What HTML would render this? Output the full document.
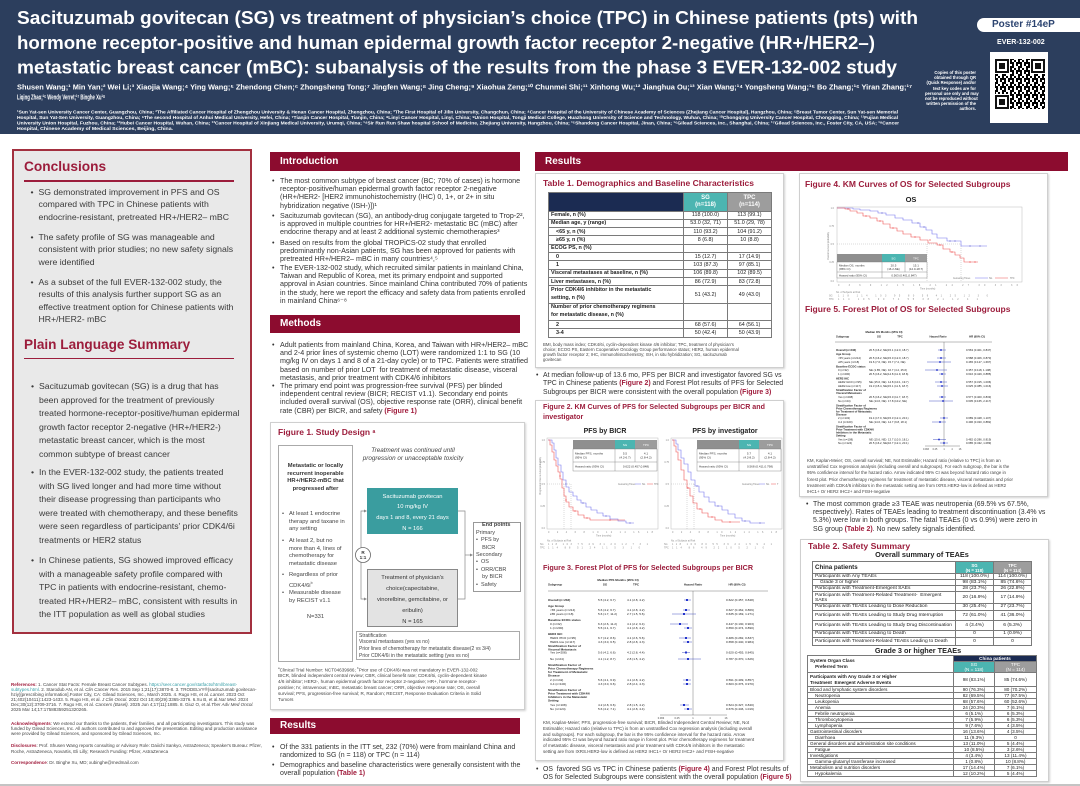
<!DOCTYPE html>
<html><head><meta charset="utf-8">
<style>
*{margin:0;padding:0;box-sizing:border-box}
body{width:1080px;height:786px;position:relative;overflow:hidden;background:#fff;font-family:"Liberation Sans",Arial,sans-serif;color:#333}
.a{position:absolute;white-space:nowrap}
.bl{position:absolute;white-space:nowrap}
.bl>i{position:absolute;font-style:normal;left:-8px}
.bar{position:absolute;background:#8c0c2f;color:#fff;font-weight:bold;font-size:10px;padding-left:10px}
.box{position:absolute;background:#fff;border:1px solid #cfcfcf;box-shadow:1px 1px 2px rgba(0,0,0,.18)}
.ft{color:#9c1d3c;font-weight:bold}
.r{color:#a01c3c;font-weight:bold}
table{border-collapse:collapse;table-layout:fixed;position:absolute}
td{padding:0;overflow:hidden;white-space:nowrap}
.tb td{border:0.6px solid #7a7a7a}
.tb td.c{text-align:center}
.tb td.l{padding-left:2px}
.tb td.i{padding-left:7px}
.b{font-weight:bold}
</style></head><body>

<!-- HEADER -->
<div class="a" style="left:0;top:0;width:1080px;height:134px;background:#2c3e5d"></div>
<div class="a" style="left:977px;top:18px;width:103px;height:14px;background:#fff;border-radius:7px 0 0 7px"></div>
<div class="a b" style="left:992px;top:18px;font-size:10px;line-height:14px;color:#2c4470">Poster #14eP</div>
<div class="a b" style="left:997px;top:38px;font-size:7.1px;line-height:8px;color:#fff">EVER-132-002</div>
<div class="a b" style="left:925px;top:70px;width:51px;font-size:4.2px;line-height:5.2px;color:#fff;text-align:right">Copies of this poster<br>obtained through QR<br>(Quick Response) and/or<br>text key codes are for<br>personal use only and may<br>not be reproduced without<br>written permission of the<br>authors.</div>

<!-- LEFT PANEL -->
<div class="a" style="left:12px;top:149px;width:240px;height:485px;background:#e9e9e9;border:2px solid #a3303f"></div>
<div class="a ft" style="left:24px;top:159px;font-size:13.7px;line-height:16px">Conclusions</div>
<div class="a" style="left:24px;top:180px;width:210px;height:1.5px;background:#9c1d3c"></div>
<div class="bl" style="left:38.5px;top:185.8px;font-size:8.7px;line-height:12.4px;color:#3a3a3a"><i>•</i>SG demonstrated improvement in PFS and OS<br>compared with TPC in Chinese patients with<br>endocrine-resistant, pretreated HR+/HER2– mBC</div>
<div class="bl" style="left:38.5px;top:230.8px;font-size:8.7px;line-height:12.4px;color:#3a3a3a"><i>•</i>The safety profile of SG was manageable and<br>consistent with prior studies; no new safety signals<br>were identified</div>
<div class="bl" style="left:38.5px;top:275.8px;font-size:8.7px;line-height:12.4px;color:#3a3a3a"><i>•</i>As a subset of the full EVER-132-002 study, the<br>results of this analysis further support SG as an<br>effective treatment option for Chinese patients with<br>HR+/HER2- mBC</div>
<div class="a ft" style="left:24px;top:337px;font-size:13.6px;line-height:16px">Plain Language Summary</div>
<div class="a" style="left:24px;top:357.5px;width:210px;height:1.5px;background:#9c1d3c"></div>
<div class="bl" style="left:39px;top:380.3px;font-size:8.7px;line-height:13.5px;color:#3a3a3a"><i>•</i>Sacituzumab govitecan (SG) is a drug that has<br>been approved for the treatment of previously<br>treated hormone-receptor-positive/human epidermal<br>growth factor receptor 2-negative (HR+/HER2-)<br>metastatic breast cancer, which is the most<br>common subtype of breast cancer</div>
<div class="bl" style="left:39px;top:466.3px;font-size:8.7px;line-height:13.5px;color:#3a3a3a"><i>•</i>In the EVER-132-002 study, the patients treated<br>with SG lived longer and had more time without<br>their disease progressing than participants who<br>were treated with chemotherapy, and these benefits<br>were seen regardless of participants' prior CDK4/6i<br>treatments or HER2 status</div>
<div class="bl" style="left:39px;top:554.3px;font-size:8.7px;line-height:13.5px;color:#3a3a3a"><i>•</i>In Chinese patients, SG showed improved efficacy<br>with a manageable safety profile compared with<br>TPC in patients with endocrine-resistant, chemo-<br>treated HR+/HER2– mBC, consistent with results in<br>the ITT population as well as global studies</div>

<div class="a" style="left:11px;top:681.5px;width:253px;white-space:normal;font-size:4.5px;line-height:5px;color:#444"><span class="r">References:</span> 1. Cancer Stat Facts: Female Breast Cancer Subtypes. <span style="color:#3aa0a8">https://seer.cancer.gov/statfacts/html/breast-subtypes.html</span>. 2. Starodub AN, et al. <i>Clin Cancer Res.</i> 2015 Sep 1;21(17):3870-8. 3. TRODELVY®(sacituzumab govitecan-hziy)[prescribing information].Foster City, CA: Gilead Sciences, Inc., March 2025. 4. Rugo HS, et al. <i>Lancet.</i> 2023 Oct 21;402(10411):1423-1433. 5. Rugo HS, et al. <i>J Clin Oncol.</i> 2022 Oct 10;40(29):3365-3376. 6.Xu B, et al.<i>Nat Med.</i> 2024 Dec;30(12):3709-3716. 7. Rugo HS, et al. <i>Cancers (Basel).</i> 2025 Jun 4;17(11):1885. 8. Giuz O, et al.<i>Ther Adv Med Oncol.</i> 2025 Mar 14;17:17588359251320265.</div>
<div class="a" style="left:11px;top:720.8px;width:253px;white-space:normal;font-size:4.5px;line-height:5px;color:#444"><span class="r">Acknowledgments</span>: We extend our thanks to the patients, their families, and all participating investigators. This study was funded by Gilead Sciences, Inc. All authors contributed to and approved the presentation. Editing and production assistance were provided by Gilead Sciences, and sponsored by Gilead Sciences, Inc.</div>
<div class="a" style="left:11px;top:743.3px;width:253px;white-space:normal;font-size:4.5px;line-height:5.5px;color:#444"><span class="r">Disclosures</span>: Prof. Shusen Wang reports consulting or Advisory Role: Daiichi Sankyo, AstraZeneca; Speaker's Bureau: Pfizer, Roche, AstraZeneca, Novartis, Eli Lilly; Research Funding: Pfizer, AstraZeneca</div>
<div class="a" style="left:11px;top:759.5px;font-size:4.5px;line-height:5px;color:#444"><span class="r">Correspondence</span>: Dr. Binghe Xu, MD; xubinghe@medmail.com</div>

<!-- MIDDLE COLUMN -->
<div class="bar" style="left:270px;top:152px;width:250px;height:19px;line-height:19px">Introduction</div>
<div class="bl" style="left:280px;top:176.8px;font-size:7.15px;line-height:8.33px"><i>•</i>The most common subtype of breast cancer (BC; 70% of cases) is hormone<br>receptor-positive/human epidermal growth factor receptor 2-negative<br>(HR+/HER2- [HER2 immunohistochemistry (IHC) 0, 1+, or 2+ in situ<br>hybridization negative (ISH-)])¹</div>
<div class="bl" style="left:280px;top:211.8px;font-size:7.15px;line-height:8.33px"><i>•</i>Sacituzumab govitecan (SG), an antibody-drug conjugate targeted to Trop-2²,<br>is approved in multiple countries for HR+/HER2- metastatic BC (mBC) after<br>endocrine therapy and at least 2 additional systemic chemotherapies³</div>
<div class="bl" style="left:280px;top:238.8px;font-size:7.15px;line-height:8.33px"><i>•</i>Based on results from the global TROPiCS-02 study that enrolled<br>predominantly non-Asian patients, SG has been approved for patients with<br>pretreated HR+/HER2– mBC in many countries⁴,⁵</div>
<div class="bl" style="left:280px;top:263.8px;font-size:7.15px;line-height:8.33px"><i>•</i>The EVER-132-002 study, which recruited similar patients in mainland China,<br>Taiwan and Republic of Korea, met its primary endpoint and supported<br>approval in Asian countries. Since mainland China contributed 70% of patients<br>in the study, here we report the efficacy and safety data from patients enrolled<br>in mainland China⁶⁻⁸</div>

<div class="bar" style="left:270px;top:315px;width:250px;height:18px;line-height:18px">Methods</div>
<div class="bl" style="left:280px;top:340.8px;font-size:7.15px;line-height:8.33px"><i>•</i>Adult patients from mainland China, Korea, and Taiwan with HR+/HER2– mBC<br>and 2-4 prior lines of systemic chemo (LOT) were randomized 1:1 to SG (10<br>mg/kg IV on days 1 and 8 of a 21-day cycle) or to TPC. Patients were stratified<br>based on number of prior LOT &nbsp;for treatment of metastatic disease, visceral<br>metastasis, and prior treatment with CDK4/6 inhibitors</div>
<div class="bl" style="left:280px;top:381.8px;font-size:7.15px;line-height:8.33px"><i>•</i>The primary end point was progression-free survival (PFS) per blinded<br>independent central review (BICR; RECIST v1.1). Secondary end points<br>included overall survival (OS), objective response rate (ORR), clinical benefit<br>rate (CBR) per BICR, and safety <span class="r">(Figure 1)</span></div>

<!-- FIGURE 1 -->
<div class="box" style="left:270px;top:422px;width:255px;height:288px"></div>
<div class="a ft" style="left:278px;top:426px;font-size:8.5px;line-height:12px">Figure 1. Study Design <span style="font-size:5px;vertical-align:top">a</span></div>
<div class="a" style="left:278px;top:445px;width:75px;height:217px;border:1px solid #aaa;background:#fff"></div>
<div class="a b" style="left:278px;top:463.3px;width:75px;text-align:center;font-size:5.8px;line-height:7.4px;color:#333">Metastatic or locally<br>recurrent inoperable<br>HR+/HER2-mBC that<br>progressed after</div>
<div class="bl" style="left:289px;top:511.2px;font-size:5.8px;line-height:7.6px;color:#444"><i style="left:-7px">•</i>At least 1 endocrine<br>therapy and taxane in<br>any setting</div>
<div class="bl" style="left:289px;top:538.2px;font-size:5.8px;line-height:7.6px;color:#444"><i style="left:-7px">•</i>At least 2, but no<br>more than 4, lines of<br>chemotherapy for<br>metastatic disease</div>
<div class="bl" style="left:289px;top:572.2px;font-size:5.8px;line-height:7.6px;color:#444"><i style="left:-7px">•</i>Regardless of prior<br>CDK4/6i<sup style="font-size:3.5px">b</sup></div>
<div class="bl" style="left:289px;top:590.2px;font-size:5.8px;line-height:7.6px;color:#444"><i style="left:-7px">•</i>Measurable disease<br>by RECIST v1.1</div>
<div class="a" style="left:278px;top:613px;width:75px;text-align:center;font-size:5.8px;line-height:8px;color:#444">N=331</div>
<div class="a" style="left:356px;top:446.5px;width:114px;text-align:center;font-size:6.3px;line-height:8px;font-style:italic;color:#444">Treatment was continued until<br>progression or unacceptable toxicity</div>
<div class="a" style="left:367px;top:488px;width:91px;height:46px;background:#3a9d9f"></div>
<div class="a" style="left:367px;top:491.6px;width:91px;text-align:center;font-size:5.8px;line-height:10.7px;color:#fff">Sacituzumab govitecan<br>10 mg/kg IV<br>days 1 and 8, every 21 days<br>N = 166</div>
<div class="a" style="left:367px;top:569px;width:91px;height:58px;background:#e3e3e3;border:1px solid #888"></div>
<div class="a" style="left:367px;top:572.5px;width:91px;text-align:center;font-size:5.8px;line-height:11px;color:#333">Treatment of physician's<br>choice(capecitabine,<br>vinorelbine, gemcitabine, or<br>eribulin)<br>N = 165</div>
<div class="a" style="left:473px;top:522px;width:48px;height:70px;border:1px solid #999;background:#fff"></div>
<div class="a" style="left:476px;top:522.3px;font-size:5.5px;line-height:7.4px;color:#444"><b style="padding-left:6px">End points</b><br>Primary<br>• &nbsp;PFS by<br>&nbsp;&nbsp;&nbsp;&nbsp;BICR<br>Secondary<br>• &nbsp;OS<br>• &nbsp;ORR/CBR<br>&nbsp;&nbsp;&nbsp;&nbsp;by BICR<br>• &nbsp;Safety</div>
<div class="a" style="left:356px;top:631px;width:164px;height:29px;border:1px solid #aaa;background:#fff"></div>
<div class="a" style="left:359px;top:632.5px;font-size:5px;line-height:6.7px;color:#444">Stratification<br>Visceral metastases (yes vs no)<br>Prior lines of chemotherapy for metastatic disease(2 vs 3/4)<br>Prior CDK4/6i in the metastatic setting (yes vs no)</div>
<div class="a" style="left:278px;top:666px;font-size:4.6px;line-height:5.8px;color:#444"><sup style="font-size:3px">a</sup>Clinical Trial Number: NCT04639986; <sup style="font-size:3px">b</sup>Prior use of CDK4/6i was not mandatory in EVER-132-002<br>BICR, blinded independent central review; CBR, clinical benefit rate; CDK4/6i, cyclin-dependent kinase<br>4/6 inhibitor; HER2-, human epidermal growth factor receptor 2-negative; HR+, hormone receptor-<br>positive; IV, intravenous; mBC, metastatic breast cancer; ORR, objective response rate; OS, overall<br>survival; PFS, progression-free survival; R, Random; RECIST, Response Evaluation Criteria in Solid<br>Tumors</div>

<div class="bar" style="left:270px;top:718px;width:250px;height:16px;line-height:16px">Results</div>
<div class="bl" style="left:280px;top:744px;font-size:7px;line-height:8px"><i>•</i>Of the 331 patients in the ITT set, 232 (70%) were from mainland China and<br>randomized to SG (n = 118) or TPC (n = 114)</div>
<div class="bl" style="left:280px;top:762px;font-size:7px;line-height:8px"><i>•</i>Demographics and baseline characteristics were generally consistent with the<br>overall population <span class="r">(Table 1)</span></div>

<!-- RIGHT RESULTS -->
<div class="bar" style="left:535px;top:152px;width:533px;height:19px;line-height:19px">Results</div>

<!-- TABLE 1 -->
<div class="box" style="left:535px;top:173px;width:249px;height:195px"></div>
<div class="a ft" style="left:543px;top:177px;font-size:8.5px;line-height:12px">Table 1. Demographics and Baseline Characteristics</div>
<table class="tb" style="left:548px;top:192px;width:223px;font-size:5.4px;line-height:6.2px;color:#222">
<col style="width:135px"><col style="width:44px"><col style="width:44px">
<tr style="height:18.5px"><td style="background:#1b2b52"></td><td class="c b" style="background:#4cb5b1;color:#fff;font-size:6px;line-height:7px">SG<br>(n=118)</td><td class="c b" style="background:#9d9d9d;color:#fff;font-size:6px;line-height:7px">TPC<br>(n=114)</td></tr>
<tr style="height:8.33px"><td class="l b">Female, n (%)</td><td class="c">118 (100.0)</td><td class="c">113 (99.1)</td></tr>
<tr style="height:8.33px"><td class="l b">Median age, y (range)</td><td class="c">53.0 (32, 71)</td><td class="c">51.0 (29, 78)</td></tr>
<tr style="height:8.33px"><td class="i b">&lt;65 y, n (%)</td><td class="c">110 (93.2)</td><td class="c">104 (91.2)</td></tr>
<tr style="height:8.33px"><td class="i b">≥65 y, n (%)</td><td class="c">8 (6.8)</td><td class="c">10 (8.8)</td></tr>
<tr style="height:8.33px"><td class="l b">ECOG PS, n (%)</td><td></td><td></td></tr>
<tr style="height:8.33px"><td class="i b">0</td><td class="c">15 (12.7)</td><td class="c">17 (14.9)</td></tr>
<tr style="height:8.33px"><td class="i b">1</td><td class="c">103 (87.3)</td><td class="c">97 (85.1)</td></tr>
<tr style="height:8.33px"><td class="l b">Visceral metastases at baseline, n (%)</td><td class="c">106 (89.8)</td><td class="c">102 (89.5)</td></tr>
<tr style="height:8.33px"><td class="l b">Liver metastases, n (%)</td><td class="c">86 (72.9)</td><td class="c">83 (72.8)</td></tr>
<tr style="height:17.3px"><td class="l b" style="line-height:7.6px">Prior CDK4/6 inhibitor in the metastatic<br>setting, n (%)</td><td class="c">51 (43.2)</td><td class="c">49 (43.0)</td></tr>
<tr style="height:17.3px"><td class="l b" style="line-height:7.6px">Number of prior chemotherapy regimens<br>for metastatic disease, n (%)</td><td></td><td></td></tr>
<tr style="height:8.33px"><td class="i b">2</td><td class="c">68 (57.6)</td><td class="c">64 (56.1)</td></tr>
<tr style="height:8.33px"><td class="i b">3-4</td><td class="c">50 (42.4)</td><td class="c">50 (43.9)</td></tr>
</table>
<div class="a" style="left:543px;top:341.5px;font-size:4.3px;line-height:5px;color:#444">BMI, body mass index; CDK4/6i, cyclin-dependent kinase 4/6 inhibitor; TPC, treatment of physician's<br>choice; ECOG PS, Eastern Cooperative Oncology Group performance status; HER2, human epidermal<br>growth factor receptor 2; IHC, immunohistochemistry; ISH, in situ hybridization; SG, sacituzumab<br>govitecan</div>

<div class="bl" style="left:543px;top:371.8px;font-size:6.9px;line-height:8.5px"><i style="left:-7px">•</i>At median follow-up of 13.6 mo, PFS per BICR and investigator favored SG vs<br>TPC in Chinese patients <span class="r">(Figure 2)</span> and Forest Plot results of PFS for Selected<br>Subgroups per BICR were consistent with the overall population <span class="r">(Figure 3)</span></div>

<!-- FIGURE 2/3 BOX -->
<div class="box" style="left:535px;top:400px;width:249px;height:361px"></div>
<div class="a ft" style="left:543px;top:402px;font-size:7.1px;line-height:10px">Figure 2. KM Curves of PFS for Selected Subgroups per BICR and<br>investigator</div>
<div class="a b" style="left:565px;top:428px;width:80px;text-align:center;font-size:7px;line-height:8px;color:#222">PFS by BICR</div>
<div class="a b" style="left:685px;top:428px;width:80px;text-align:center;font-size:7px;line-height:8px;color:#222">PFS by investigator</div>
<div class="a ft" style="left:543px;top:563px;font-size:7.2px;line-height:10px">Figure 3. Forest Plot of PFS for Selected Subgroups per BICR</div>
<div class="a" style="left:543px;top:720px;font-size:4.5px;line-height:5.8px;color:#444">KM, Kaplan-Meier; PFS, progression-free survival; BICR, Blinded Independent Central Review; NE, Not<br>Estimable; Hazard ratio (relative to TPC) is from an unstratified Cox regression analysis (including overall<br>and subgroups). For each subgroup, the bar is the 95% confidence interval for the hazard ratio. Arrow<br>indicated 95% CI was beyond hazard ratio range in forest plot. Prior chemotherapy regimens for treatment<br>of metastatic disease, visceral metastasis and prior treatment with CDK4/6 inhibitors in the metastatic<br>setting are from IXRS.HER2-low is defined as HER2 IHC1+ Or HER2 IHC2+ and FISH-negative</div>
<div class="bl" style="left:543px;top:765.8px;font-size:6.9px;line-height:8.3px"><i style="left:-7px">•</i>OS &nbsp;favored SG vs TPC in Chinese patients <span class="r">(Figure 4)</span> and Forest Plot results of<br>OS for Selected Subgroups were consistent with the overall population <span class="r">(Figure 5)</span></div>

<!-- FIGURE 4/5 BOX -->
<div class="box" style="left:799px;top:173px;width:249px;height:324px"></div>
<div class="a ft" style="left:805px;top:178px;font-size:8.5px;line-height:12px">Figure 4. KM Curves of OS for Selected Subgroups</div>
<div class="a b" style="left:891px;top:194.5px;width:40px;text-align:center;font-size:7.5px;line-height:9px;color:#222">OS</div>
<div class="a ft" style="left:805px;top:303px;font-size:8.5px;line-height:12px">Figure 5. Forest Plot of OS for Selected Subgroups</div>
<div class="a" style="left:807px;top:458px;font-size:4.4px;line-height:6.2px;color:#444">KM, Kaplan-Meier; OS, overall survival; NE, Not Estimable; Hazard ratio (relative to TPC) is from an<br>unstratified Cox regression analysis (including overall and subgroups). For each subgroup, the bar is the<br>95% confidence interval for the hazard ratio. Arrow indicated 95% CI was beyond hazard ratio range in<br>forest plot. Prior chemotherapy regimens for treatment of metastatic disease, visceral metastasis and prior<br>treatment with CDK4/6 inhibitors in the metastatic setting are from IXRS.HER2-low is defined as HER2<br>IHC1+ Or HER2 IHC2+ and FISH-negative</div>

<div class="bl" style="left:813px;top:500.8px;font-size:6.95px;line-height:8.33px"><i style="left:-7px">•</i>The most common grade ≥3 TEAE was neutropenia (69.5% vs 67.5%,<br>respectively). Rates of TEAEs leading to treatment discontinuation (3.4% vs<br>5.3%) were low in both groups. The fatal TEAEs (0 vs 0.9%) were zero in<br>SG group <span class="r">(Table 2)</span>. No new safety signals identified.</div>

<!-- TABLE 2 -->
<div class="box" style="left:800px;top:539px;width:249px;height:243px"></div>
<div class="a ft" style="left:808px;top:540px;font-size:8.7px;line-height:12px">Table 2. Safety Summary</div>
<div class="a b" style="left:862px;top:549.5px;width:120px;text-align:center;font-size:7.3px;line-height:9px;color:#222">Overall summary of TEAEs</div>
<table class="tb" style="left:812px;top:561px;width:219px;font-size:4.9px;line-height:5px;color:#222">
<col style="width:143px"><col style="width:38px"><col style="width:38px">
<tr style="height:12px"><td class="l b" style="font-size:6.2px;line-height:7px">China patients</td><td class="c b" style="background:#4cb5b1;color:#fff;font-size:4.3px;line-height:5px">SG<br>(N = 118)</td><td class="c b" style="background:#9d9d9d;color:#fff;font-size:4.3px;line-height:5px">TPC<br>(N = 114)</td></tr>
<tr style="height:5.2px"><td class="l">Participants with Any TEAEs</td><td class="c">118 (100.0%)</td><td class="c">114 (100.0%)</td></tr>
<tr style="height:5.3px"><td class="i">Grade 3 or higher</td><td class="c">98 (83.1%)</td><td class="c">85 (74.6%)</td></tr>
<tr style="height:6.3px"><td class="l">Participants with Treatment-Emergent SAEs</td><td class="c">28 (23.7%)</td><td class="c">26 (22.8%)</td></tr>
<tr style="height:11.7px"><td class="l">Participants with Treatment-Related Treatment- &nbsp;Emergent<br>SAEs</td><td class="c">20 (16.9%)</td><td class="c">17 (14.9%)</td></tr>
<tr style="height:7px"><td class="l">Participants with TEAEs Leading to Dose Reduction</td><td class="c">30 (25.4%)</td><td class="c">27 (23.7%)</td></tr>
<tr style="height:9.8px"><td class="l">Participants with TEAEs Leading to Study Drug Interruption</td><td class="c">72 (61.0%)</td><td class="c">41 (36.0%)</td></tr>
<tr style="height:9.9px"><td class="l">Participants with TEAEs Leading to Study Drug Discontinuation</td><td class="c">4 (3.4%)</td><td class="c">6 (5.3%)</td></tr>
<tr style="height:7px"><td class="l">Participants with TEAEs Leading to Death</td><td class="c">0</td><td class="c">1 (0.9%)</td></tr>
<tr style="height:8.8px"><td class="l">Participants with Treatment-Related TEAEs Leading to Death</td><td class="c">0</td><td class="c">0</td></tr>
</table>
<div class="a b" style="left:858px;top:645.5px;width:120px;text-align:center;font-size:7.3px;line-height:9px;color:#222">Grade 3 or higher TEAEs</div>
<table class="tb" style="left:807px;top:655px;width:229px;font-size:4.6px;line-height:5px;color:#222">
<col style="width:146px"><col style="width:41px"><col style="width:42px">
<tr style="height:6px"><td rowspan="2" class="l b" style="vertical-align:middle;line-height:6px">System Organ Class<br>&nbsp;&nbsp;&nbsp;&nbsp;Preferred Term</td><td colspan="2" class="c b" style="background:#1b2b52;color:#fff">China patients</td></tr>
<tr style="height:11px"><td class="c" style="background:#4cb5b1;color:#fff">SG<br>(N = 118)</td><td class="c" style="background:#9d9d9d;color:#fff">TPC<br>(N = 114)</td></tr>
<tr style="height:14px"><td class="l b" style="line-height:6px">Participants with Any Grade 3 or Higher<br>Treatment &nbsp;Emergent Adverse Events</td><td class="c">98 (83.1%)</td><td class="c">85 (74.6%)</td></tr>
<tr style="height:5.87px"><td class="l">Blood and lymphatic system disorders</td><td class="c">90 (76.3%)</td><td class="c">80 (70.2%)</td></tr>
<tr style="height:5.87px"><td class="i">Neutropenia</td><td class="c">82 (69.5%)</td><td class="c">77 (67.5%)</td></tr>
<tr style="height:5.87px"><td class="i">Leukopenia</td><td class="c">68 (57.6%)</td><td class="c">60 (52.6%)</td></tr>
<tr style="height:5.87px"><td class="i">Anemia</td><td class="c">24 (20.3%)</td><td class="c">7 (6.1%)</td></tr>
<tr style="height:5.87px"><td class="i">Febrile neutropenia</td><td class="c">6 (5.1%)</td><td class="c">6 (5.3%)</td></tr>
<tr style="height:5.87px"><td class="i">Thrombocytopenia</td><td class="c">7 (5.9%)</td><td class="c">6 (5.3%)</td></tr>
<tr style="height:5.87px"><td class="i">Lymphopenia</td><td class="c">9 (7.6%)</td><td class="c">4 (3.5%)</td></tr>
<tr style="height:5.87px"><td class="l">Gastrointestinal disorders</td><td class="c">16 (13.6%)</td><td class="c">4 (3.5%)</td></tr>
<tr style="height:5.87px"><td class="i">Diarrhoea</td><td class="c">11 (9.3%)</td><td class="c">0</td></tr>
<tr style="height:5.87px"><td class="l">General disorders and administration site conditions</td><td class="c">13 (11.0%)</td><td class="c">5 (4.4%)</td></tr>
<tr style="height:5.87px"><td class="i">Fatigue</td><td class="c">10 (8.5%)</td><td class="c">3 (2.6%)</td></tr>
<tr style="height:5.87px"><td class="l">Investigations</td><td class="c">4 (3.4%)</td><td class="c">13 (11.4%)</td></tr>
<tr style="height:5.87px"><td class="i">Gamma-glutamyl transferase increased</td><td class="c">1 (0.8%)</td><td class="c">10 (8.8%)</td></tr>
<tr style="height:5.87px"><td class="l">Metabolism and nutrition disorders</td><td class="c">17 (14.4%)</td><td class="c">7 (6.1%)</td></tr>
<tr style="height:5.87px"><td class="i">Hypokalemia</td><td class="c">12 (10.2%)</td><td class="c">5 (4.4%)</td></tr>
</table>

<div class="a" style="left:0;top:784px;width:1080px;height:2px;background:#c4c4c4"></div>

<!-- SVG OVERLAY -->
<svg width="1080" height="786" style="position:absolute;left:0;top:0" font-family="Liberation Sans, Arial, sans-serif">
<defs>
<pattern id="qr" width="8" height="8" patternUnits="userSpaceOnUse"><rect x="0" y="0" width="2" height="2"/><rect x="4" y="0" width="2" height="4"/><rect x="2" y="2" width="2" height="2"/><rect x="6" y="4" width="2" height="2"/><rect x="0" y="6" width="4" height="2"/><rect x="4" y="6" width="2" height="2"/><rect x="2" y="4" width="2" height="2"/></pattern>
</defs>
<g fill="#fff" font-weight="bold">
<text x="17" y="24" font-size="18.8" textLength="901" lengthAdjust="spacingAndGlyphs">Sacituzumab govitecan (SG) vs treatment of physician’s choice (TPC) in Chinese patients (pts) with</text>
<text x="17" y="49" font-size="18.8" textLength="858" lengthAdjust="spacingAndGlyphs">hormone receptor-positive and human epidermal growth factor receptor 2-negative (HR+/HER2–)</text>
<text x="17" y="73.5" font-size="18.8" textLength="880" lengthAdjust="spacingAndGlyphs">metastatic breast cancer (mBC): subanalysis of the results from the phase 3 EVER-132-002 study</text>
<text x="17" y="89.5" font-size="7.3" textLength="895" lengthAdjust="spacingAndGlyphs">Shusen Wang;¹ Min Yan;² Wei Li;³ Xiaojia Wang;⁴ Ying Wang;⁵ Zhendong Chen;⁶ Zhongsheng Tong;⁷ Jingfen Wang;⁸ Jing Cheng;⁹ Xiaohua Zeng;¹⁰ Chunmei Shi;¹¹ Xinhong Wu;¹² Jianghua Ou;¹³ Xian Wang;¹⁴ Yongsheng Wang;¹⁵ Bo Zhang;¹⁶ Yiran Zhang;¹⁷</text>
<text x="17" y="99.5" font-size="7.3" textLength="88" lengthAdjust="spacingAndGlyphs">Liqing Zhao;¹⁶ Wendy Verret;¹⁷ Binghe Xu¹⁸</text>
<g font-size="4.7" font-weight="bold">
<text x="17" y="113.5" textLength="881" lengthAdjust="spacingAndGlyphs">¹Sun Yat-sen University Cancer Center, Guangzhou, China; ²The Affiliated Cancer Hospital of Zhengzhou University &amp; Henan Cancer Hospital, Zhengzhou, China; ³The First Hospital of Jilin University, Changchun, China; ⁴Cancer Hospital of the University of Chinese Academy of Sciences (Zhejiang Cancer Hospital), Hangzhou, China; ⁵Breast Tumor Center, Sun Yat-sen Memorial</text>
<text x="17" y="119" textLength="881" lengthAdjust="spacingAndGlyphs">Hospital, Sun Yat-Sen University, Guangzhou, China; ⁶The second Hospital of Anhui Medical University, Hefei, China; ⁷Tianjin Cancer Hospital, Tianjin, China; ⁸Linyi Cancer Hospital, Linyi, China; ⁹Union Hospital, Tongji Medical College, Huazhong University of Science and Technology, Wuhan, China; ¹⁰Chongqing University Cancer Hospital, Chongqing, China; ¹¹Fujian Medical</text>
<text x="17" y="124.5" textLength="882" lengthAdjust="spacingAndGlyphs">University Union Hospital, Fuzhou, China; ¹²Hubei Cancer Hospital, Wuhan, China; ¹³Cancer Hospital of Xinjiang Medical University, Urumqi, China; ¹⁴Sir Run Run Shaw hospital School of Medicine, Zhejiang University, Hangzhou, China; ¹⁵Shandong Cancer Hospital, Jinan, China; ¹⁶Gilead Sciences, Inc., Shanghai, China; ¹⁷Gilead Sciences, Inc., Foster City, CA, USA; ¹⁸Cancer</text>
<text x="17" y="130" textLength="156" lengthAdjust="spacingAndGlyphs">Hospital, Chinese Academy of Medical Sciences, Beijing, China.</text>
</g>
</g>
<rect x="990" y="52" width="58" height="71" fill="#fff"/>
<rect x="995" y="59" width="50" height="50" fill="url(#qr)"/>
<g>
<rect x="995" y="59" width="15" height="15" fill="#fff"/><rect x="995" y="59" width="14" height="14" fill="#111"/><rect x="997" y="61" width="10" height="10" fill="#fff"/><rect x="999" y="63" width="6" height="6" fill="#111"/>
<rect x="1030" y="59" width="15" height="15" fill="#fff"/><rect x="1031" y="59" width="14" height="14" fill="#111"/><rect x="1033" y="61" width="10" height="10" fill="#fff"/><rect x="1035" y="63" width="6" height="6" fill="#111"/>
<rect x="995" y="94" width="15" height="15" fill="#fff"/><rect x="995" y="95" width="14" height="14" fill="#111"/><rect x="997" y="97" width="10" height="10" fill="#fff"/><rect x="999" y="99" width="6" height="6" fill="#111"/>
</g>

<g stroke="#888" stroke-width="0.7" fill="none">
<polyline points="366,511 361,511 361,599 366,599"/>
<polyline points="458,511 465,511 465,599 458,599"/>
<line x1="465" y1="555" x2="471" y2="555"/>
</g>
<g fill="#888"><polygon points="367,511 364,509.5 364,512.5"/><polygon points="367,599 364,597.5 364,600.5"/><polygon points="473,555 470,553.5 470,556.5"/></g>
<circle cx="363" cy="555" r="7.5" fill="#fff" stroke="#666" stroke-width="0.8"/>
<text x="363" y="553.8" font-size="4.6" font-weight="bold" text-anchor="middle" fill="#333">R</text>
<text x="363" y="559" font-size="4.6" font-weight="bold" text-anchor="middle" fill="#333">1:1</text>

<g>
<rect x="547" y="438" width="111" height="91" fill="#fff" stroke="#bbb" stroke-width="0.5"/>
<g stroke="#999" stroke-width="0.35" stroke-dasharray="1,1" fill="none"><polyline points="547,484 571,484"/><line x1="564" y1="484" x2="564" y2="529"/><line x1="571" y1="484" x2="571" y2="529"/></g>
<polyline fill="none" stroke="#7777ee" stroke-width="0.6" points="548,440 552,440 552,443 554,443 554,450 556,450 556,458 558,458 558,465 561,465 561,472 563,472 563,480 566,480 566,487 569,487 569,492 573,492 573,496 577,496 577,500 581,500 581,503 586,503 586,507 591,507 591,510 597,510 597,513 603,513 603,516 610,516 610,519 618,519 618,521 626,521 626,523 634,523"/>
<polyline fill="none" stroke="#ee5555" stroke-width="0.6" points="548,440 550,440 550,445 552,445 552,452 554,452 554,460 556,460 556,466 558,466 558,472 560,472 560,479 562,479 562,488 564,488 564,496 566,496 566,502 569,502 569,507 573,507 573,511 578,511 578,515 584,515 584,518 590,518 590,520 625,520"/>
<g fill="#e33"><circle cx="560" cy="476" r="0.6"/><circle cx="566" cy="500" r="0.6"/><circle cx="575" cy="511" r="0.6"/><circle cx="587" cy="518" r="0.6"/><circle cx="610" cy="520" r="0.6"/></g>
<g fill="#55c"><circle cx="566" cy="484" r="0.6"/><circle cx="583" cy="503" r="0.6"/><circle cx="606" cy="516" r="0.6"/><circle cx="630" cy="523" r="0.6"/></g>
<rect x="573" y="440" width="42" height="9" fill="#8f8f8f"/><rect x="615" y="440" width="20" height="9" fill="#4cb5b1"/><rect x="635" y="440" width="22" height="9" fill="#9d9d9d"/>
<rect x="573" y="449" width="84" height="22" fill="#fff" stroke="#777" stroke-width="0.4"/>
<g stroke="#777" stroke-width="0.4"><line x1="573" y1="462" x2="657" y2="462"/><line x1="615" y1="449" x2="615" y2="471"/><line x1="635" y1="449" x2="635" y2="462"/></g>
<g font-size="3" fill="#333"><text x="625" y="445.8" fill="#fff" text-anchor="middle">SG</text><text x="646" y="445.8" fill="#fff" text-anchor="middle">TPC</text><text x="575" y="454.5">Median PFS, months</text><text x="575" y="458.5">(95% CI)</text><text x="625" y="454.5" text-anchor="middle">5.5</text><text x="625" y="458.5" text-anchor="middle">(4.2-6.7)</text><text x="646" y="454.5" text-anchor="middle">4.1</text><text x="646" y="458.5" text-anchor="middle">(2.8-4.2)</text><text x="575" y="467.5">Hazard ratio (95% CI)</text><text x="636" y="467.5" text-anchor="middle">0.622 (0.457,0.848)</text></g>
<g font-size="2.3" fill="#777"><text x="618" y="485">Censoring Times</text><line x1="635" y1="484" x2="641" y2="484" stroke="#77e" stroke-width="0.5"/><text x="642" y="485">SG</text><line x1="647" y1="484" x2="653" y2="484" stroke="#e55" stroke-width="0.5"/><text x="654" y="485">TPC</text></g>
<g font-size="2.4" fill="#888"><text x="545" y="441" text-anchor="end">1.0</text><text x="545" y="463" text-anchor="end">0.75</text><text x="545" y="485" text-anchor="end">0.5</text><text x="545" y="507" text-anchor="end">0.25</text><text x="545" y="529" text-anchor="end">0.0</text>
<text x="548" y="533" textLength="105" lengthAdjust="spacing">0 2 4 6 8 10 12 14 16 18</text>
<text x="596" y="536.5">Time (months)</text>
<text x="547" y="541.5">No. of Subjects at Risk</text>
<text x="540" y="545">SG</text><text x="548" y="545" textLength="100" lengthAdjust="spacing">118 103 75 49 31 20 12 7 3 1</text>
<text x="540" y="548.5">TPC</text><text x="548" y="548.5" textLength="92" lengthAdjust="spacing">114 88 51 24 11 5 3 1 0</text>
<text x="541" y="495" transform="rotate(-90 541 495)">Progression-free survival probability</text></g>
</g>
<g>
<rect x="671" y="438" width="111" height="91" fill="#fff" stroke="#bbb" stroke-width="0.5"/>
<g stroke="#999" stroke-width="0.35" stroke-dasharray="1,1" fill="none"><polyline points="671,484 694,484"/><line x1="687" y1="484" x2="687" y2="529"/><line x1="694" y1="484" x2="694" y2="529"/></g>
<polyline fill="none" stroke="#7777ee" stroke-width="0.6" points="672,440 676,440 676,444 678,444 678,450 681,450 681,458 684,458 684,464 688,464 688,472 691,472 691,480 695,480 695,486 699,486 699,492 704,492 704,497 709,497 709,502 715,502 715,506 722,506 722,510 728,510 728,514 735,514 735,518 742,518 742,521 750,521 750,523 765,523"/>
<polyline fill="none" stroke="#ee5555" stroke-width="0.6" points="672,440 674,440 674,446 676,446 676,452 678,452 678,460 681,460 681,470 684,470 684,480 687,480 687,488 690,488 690,496 693,496 693,503 697,503 697,509 702,509 702,513 708,513 708,517 715,517 715,520 722,520 722,522 740,522"/>
<g fill="#e33"><circle cx="688" cy="488" r="0.6"/><circle cx="700" cy="509" r="0.6"/><circle cx="712" cy="517" r="0.6"/><circle cx="730" cy="522" r="0.6"/></g>
<g fill="#55c"><circle cx="697" cy="486" r="0.6"/><circle cx="718" cy="506" r="0.6"/><circle cx="745" cy="521" r="0.6"/><circle cx="760" cy="523" r="0.6"/></g>
<rect x="697" y="440" width="42" height="9" fill="#8f8f8f"/><rect x="739" y="440" width="20" height="9" fill="#4cb5b1"/><rect x="759" y="440" width="22" height="9" fill="#9d9d9d"/>
<rect x="697" y="449" width="84" height="22" fill="#fff" stroke="#777" stroke-width="0.4"/>
<g stroke="#777" stroke-width="0.4"><line x1="697" y1="462" x2="781" y2="462"/><line x1="739" y1="449" x2="739" y2="471"/><line x1="759" y1="449" x2="759" y2="462"/></g>
<g font-size="3" fill="#333"><text x="749" y="445.8" fill="#fff" text-anchor="middle">SG</text><text x="770" y="445.8" fill="#fff" text-anchor="middle">TPC</text><text x="699" y="454.5">Median PFS, months</text><text x="699" y="458.5">(95% CI)</text><text x="749" y="454.5" text-anchor="middle">5.7</text><text x="749" y="458.5" text-anchor="middle">(4.2-8.2)</text><text x="770" y="454.5" text-anchor="middle">4.1</text><text x="770" y="458.5" text-anchor="middle">(2.8-4.2)</text><text x="699" y="467.5">Hazard ratio (95% CI)</text><text x="760" y="467.5" text-anchor="middle">0.568 (0.411,0.798)</text></g>
<g font-size="2.3" fill="#777"><text x="742" y="485">Censoring Times</text><line x1="759" y1="484" x2="765" y2="484" stroke="#77e" stroke-width="0.5"/><text x="766" y="485">SG</text><line x1="771" y1="484" x2="776" y2="484" stroke="#e55" stroke-width="0.5"/><text x="777" y="485">T</text></g>
<g font-size="2.4" fill="#888"><text x="669" y="441" text-anchor="end">1.0</text><text x="669" y="463" text-anchor="end">0.75</text><text x="669" y="485" text-anchor="end">0.5</text><text x="669" y="507" text-anchor="end">0.25</text><text x="669" y="529" text-anchor="end">0.0</text>
<text x="672" y="533" textLength="105" lengthAdjust="spacing">0 2 4 6 8 10 12 14 16 18</text>
<text x="720" y="536.5">Time (months)</text>
<text x="671" y="541.5">No. of Subjects at Risk</text>
<text x="664" y="545">SG</text><text x="672" y="545" textLength="100" lengthAdjust="spacing">118 106 80 55 36 24 15 9 4 1</text>
<text x="664" y="548.5">TPC</text><text x="672" y="548.5" textLength="92" lengthAdjust="spacing">114 86 49 22 10 5 2 1 0</text></g>
</g>

<g fill="#222">
<g font-size="3" font-weight="bold"><text x="618" y="581" text-anchor="middle">Median PFS Months (95% CI)</text><text x="605" y="585.5" text-anchor="middle">SG</text><text x="636" y="585.5" text-anchor="middle">TPC</text><text x="548" y="585.5">Subgroup</text><text x="693" y="585.5" text-anchor="middle">Hazard Ratio</text><text x="737" y="585.5" text-anchor="middle">HR (95% CI)</text></g>
<g stroke="#555" stroke-width="0.4"><line x1="548" y1="591" x2="768" y2="591"/><line x1="693" y1="591" x2="693" y2="715"/><line x1="660" y1="715" x2="727" y2="715"/></g>
<g font-size="2.6" fill="#444"><text x="661" y="719" text-anchor="middle">0.063</text><text x="677" y="719" text-anchor="middle">0.25</text><text x="693" y="719" text-anchor="middle">1</text><text x="710" y="719" text-anchor="middle">4</text><text x="726" y="719" text-anchor="middle">16</text></g>
<g font-size="3.1">
<text x="548" y="601.2" font-weight="bold">Overall (n=232)</text><text x="598" y="601.2">5.5 (4.2, 6.7)</text><text x="627" y="601.2">4.1 (2.8, 4.2)</text><text x="726" y="601.2">0.622 (0.457, 0.848)</text>
<text x="548" y="607" font-weight="bold">Age Group</text>
<text x="550" y="611.2">&lt;65 years (n=214)</text><text x="598" y="611.2">5.6 (4.2, 6.7)</text><text x="627" y="611.2">4.1 (2.8, 4.2)</text><text x="726" y="611.2">0.627 (0.462, 0.869)</text>
<text x="550" y="615.2">≥65 years (n=18)</text><text x="598" y="615.2">5.6 (1.7, 11.2)</text><text x="627" y="615.2">2.7 (1.5, 5.6)</text><text x="726" y="615.2">0.635 (0.169, 1.271)</text>
<text x="548" y="621" font-weight="bold">Baseline ECOG status</text>
<text x="550" y="625.2">0 (n=32)</text><text x="598" y="625.2">6.3 (2.6, 11.2)</text><text x="627" y="625.2">4.1 (2.2, 6.4)</text><text x="726" y="625.2">0.447 (0.130, 0.903)</text>
<text x="550" y="629.2">1 (n=200)</text><text x="598" y="629.2">5.5 (4.1, 6.7)</text><text x="627" y="629.2">4.1 (2.8, 4.2)</text><text x="726" y="629.2">0.650 (0.474, 0.890)</text>
<text x="548" y="635" font-weight="bold">HER2 IHC</text>
<text x="550" y="639.2">HER2 IHC0 (n=95)</text><text x="598" y="639.2">6.7 (4.2, 8.6)</text><text x="627" y="639.2">4.1 (2.6, 5.6)</text><text x="726" y="639.2">0.486 (0.282, 0.837)</text>
<text x="550" y="643.2">HER2-low (n=117)</text><text x="598" y="643.2">4.3 (3.0, 6.5)</text><text x="627" y="643.2">2.8 (2.8, 4.3)</text><text x="726" y="643.2">0.658 (0.440, 0.984)</text>
<text x="548" y="647" font-weight="bold">Stratification Factor of</text><text x="548" y="650.5" font-weight="bold">Visceral Metastasis</text>
<text x="550" y="653.7">Yes (n=208)</text><text x="598" y="653.7">5.6 (4.2, 6.6)</text><text x="627" y="653.7">4.2 (2.8, 4.4)</text><text x="726" y="653.7">0.620 (0.455, 0.845)</text>
<text x="550" y="660.2">No (n=24)</text><text x="598" y="660.2">4.1 (1.2, 8.7)</text><text x="627" y="660.2">2.8 (1.5, 4.2)</text><text x="726" y="660.2">0.787 (0.370, 1.626)</text>
<text x="548" y="666" font-weight="bold">Stratification Factor of</text><text x="548" y="669.5" font-weight="bold">Prior Chemotherapy Regimens</text><text x="548" y="673" font-weight="bold">for Treatment of Metastatic</text><text x="548" y="676.5" font-weight="bold">Disease</text>
<text x="550" y="681.2">2 (n=132)</text><text x="598" y="681.2">5.6 (4.1, 6.9)</text><text x="627" y="681.2">4.1 (2.8, 4.2)</text><text x="726" y="681.2">0.591 (0.409, 0.857)</text>
<text x="550" y="685.2">3-4 (n=100)</text><text x="598" y="685.2">4.3 (3.0, 6.6)</text><text x="627" y="685.2">2.8 (2.4, 4.3)</text><text x="726" y="685.2">0.603 (0.376, 0.970)</text>
<text x="548" y="691" font-weight="bold">Stratification Factor of</text><text x="548" y="694.5" font-weight="bold">Prior Treatment with CDK4/6</text><text x="548" y="698" font-weight="bold">Inhibitors in the Metastatic</text><text x="548" y="701.5" font-weight="bold">Setting</text>
<text x="550" y="706.2">Yes (n=108)</text><text x="598" y="706.2">4.2 (2.8, 6.6)</text><text x="627" y="706.2">2.8 (1.5, 4.2)</text><text x="726" y="706.2">0.524 (0.327, 0.840)</text>
<text x="550" y="710.2">No (n=124)</text><text x="598" y="710.2">5.6 (4.2, 7.1)</text><text x="627" y="710.2">4.1 (2.8, 4.4)</text><text x="726" y="710.2">0.676 (0.446, 1.019)</text>
</g>
<g stroke="#3344bb" stroke-width="0.45">
<line x1="684" y1="600" x2="691" y2="600"/><line x1="683" y1="610" x2="690" y2="610"/><line x1="672" y1="614" x2="696" y2="614"/><line x1="670" y1="624" x2="688" y2="624"/><line x1="684" y1="628" x2="692" y2="628"/><line x1="679" y1="638" x2="691" y2="638"/><line x1="683" y1="642" x2="692" y2="642"/><line x1="682" y1="652.5" x2="690" y2="652.5"/><line x1="678" y1="659" x2="701" y2="659"/><line x1="683" y1="680" x2="691" y2="680"/><line x1="683" y1="684" x2="691" y2="684"/><line x1="680" y1="705" x2="689" y2="705"/><line x1="684" y1="709" x2="692" y2="709"/>
</g>
<g fill="#2233cc"><rect x="686" y="599" width="2" height="2"/><rect x="685" y="609" width="2" height="2"/><rect x="683" y="613" width="2" height="2"/><rect x="679" y="623" width="2" height="2"/><rect x="687" y="627" width="2" height="2"/><rect x="685" y="637" width="2" height="2"/><rect x="687" y="641" width="2" height="2"/><rect x="685" y="651.5" width="2" height="2"/><rect x="687" y="658" width="2" height="2"/><rect x="686" y="679" width="2" height="2"/><rect x="686" y="683" width="2" height="2"/><rect x="683" y="704" width="2" height="2"/><rect x="687" y="708" width="2" height="2"/></g>
</g>

<g>
<rect x="837" y="207" width="185" height="75" fill="#fff" stroke="#bbb" stroke-width="0.5"/>
<g stroke="#999" stroke-width="0.35" stroke-dasharray="1,1" fill="none"><polyline points="837,244 961,244"/><line x1="927" y1="244" x2="927" y2="282"/><line x1="961" y1="244" x2="961" y2="282"/></g>
<polyline fill="none" stroke="#7777ee" stroke-width="0.6" points="837,208 853,208 853,209 860,209 860,210 870,210 870,211 878,211 878,213 886,213 886,215 895,215 895,218 903,218 903,220 912,220 912,223 920,223 920,227 926,227 926,230 932,230 932,234 937,234 937,238 947,238 947,241 961,241 961,246 987,246"/>
<polyline fill="none" stroke="#ee5555" stroke-width="0.6" points="837,208 845,208 845,209 850,209 850,211 857,211 857,213 863,213 863,216 870,216 870,218 877,218 877,221 883,221 883,224 890,224 890,228 897,228 897,231 903,231 903,234 911,234 911,237 920,237 920,240 928,240 928,243 937,243 937,245 943,245 943,249 950,249 950,252 955,252 955,255 960,255 960,258 964,258 964,262 978,262"/>
<g fill="#e33"><circle cx="848" cy="209" r="0.6"/><circle cx="866" cy="216" r="0.6"/><circle cx="880" cy="221" r="0.6"/><circle cx="893" cy="228" r="0.6"/><circle cx="915" cy="237" r="0.6"/><circle cx="930" cy="240" r="0.6"/><circle cx="940" cy="245" r="0.6"/><circle cx="952" cy="252" r="0.6"/><circle cx="970" cy="262" r="0.6"/><circle cx="975" cy="262" r="0.6"/></g>
<g fill="#55c"><circle cx="882" cy="213" r="0.6"/><circle cx="918" cy="223" r="0.6"/><circle cx="924" cy="227" r="0.6"/><circle cx="950" cy="241" r="0.6"/><circle cx="955" cy="241" r="0.6"/><circle cx="970" cy="246" r="0.6"/><circle cx="980" cy="246" r="0.6"/></g>
<rect x="837" y="254" width="45" height="8" fill="#8f8f8f"/><rect x="882" y="254" width="23" height="8" fill="#4cb5b1"/><rect x="905" y="254" width="22" height="8" fill="#9d9d9d"/>
<rect x="837" y="262" width="90" height="16" fill="#fff" stroke="#777" stroke-width="0.4"/>
<g stroke="#777" stroke-width="0.4"><line x1="837" y1="272" x2="927" y2="272"/><line x1="882" y1="262" x2="882" y2="278"/><line x1="905" y1="262" x2="905" y2="272"/></g>
<g font-size="2.9" fill="#333"><text x="893.5" y="259.3" fill="#fff" text-anchor="middle">SG</text><text x="916" y="259.3" fill="#fff" text-anchor="middle">TPC</text><text x="839" y="266.3">Median OS, months</text><text x="839" y="270">(95% CI)</text><text x="893.5" y="266.3" text-anchor="middle">20.5</text><text x="893.5" y="270" text-anchor="middle">(16.2-NE)</text><text x="916" y="266.3" text-anchor="middle">15.1</text><text x="916" y="270" text-anchor="middle">(12.0-18.7)</text><text x="839" y="276.3">Hazard ratio (95% CI)</text><text x="904" y="276.3" text-anchor="middle">0.563 (0.401,0.847)</text></g>
<g font-size="2.3" fill="#777"><text x="953" y="279">Censoring Times</text><line x1="975" y1="278" x2="988" y2="278" stroke="#77e" stroke-width="0.5"/><text x="989" y="279">SG</text><line x1="995" y1="278" x2="1008" y2="278" stroke="#e55" stroke-width="0.5"/><text x="1010" y="279">TPC</text></g>
<g font-size="2.4" fill="#888"><text x="834" y="209" text-anchor="end">1.0</text><text x="834" y="227" text-anchor="end">0.75</text><text x="834" y="245" text-anchor="end">0.5</text><text x="834" y="263" text-anchor="end">0.25</text><text x="834" y="282" text-anchor="end">0.0</text>
<text x="838" y="286" textLength="180" lengthAdjust="spacing">0 3 6 9 12 15 18 21 24 27 30 33 36</text>
<text x="920" y="289.5">Time (months)</text>
<text x="836" y="293">No. of Subjects at Risk</text>
<text x="829" y="296.5">SG</text><text x="838" y="296.5" textLength="150" lengthAdjust="spacing">118 114 103 95 80 59 41 25 12 3 0</text>
<text x="829" y="300">TPC</text><text x="838" y="300" textLength="140" lengthAdjust="spacing">114 105 90 74 55 38 21 12 4 1</text>
<text x="829" y="260" transform="rotate(-90 829 260)">Overall survival probability</text></g>
</g>

<g fill="#222">
<g font-size="2.8" font-weight="bold"><text x="884" y="333" text-anchor="middle">Median OS Months (95% CI)</text><text x="879" y="337.5" text-anchor="middle">SG</text><text x="900" y="337.5" text-anchor="middle">TPC</text><text x="836" y="337.5">Subgroup</text><text x="938" y="337.5" text-anchor="middle">Hazard Ratio</text><text x="977" y="337.5" text-anchor="middle">HR (95% CI)</text></g>
<g stroke="#555" stroke-width="0.4"><line x1="835" y1="342" x2="992" y2="342"/><line x1="944" y1="342" x2="944" y2="446"/><line x1="925" y1="446" x2="960" y2="446"/></g>
<g font-size="2.4" fill="#444"><text x="926" y="450" text-anchor="middle">0.063</text><text x="935" y="450" text-anchor="middle">0.25</text><text x="944" y="450" text-anchor="middle">1</text><text x="952" y="450" text-anchor="middle">4</text><text x="960" y="450" text-anchor="middle">16</text></g>
<g font-size="2.8">
<text x="836" y="351" font-weight="bold">Overall (n=232)</text><text x="869" y="351">20.5 (16.2, NE)</text><text x="888" y="351">15.1 (12.0, 18.7)</text><text x="966" y="351">0.563 (0.401, 0.847)</text>
<text x="836" y="355" font-weight="bold">Age Group</text>
<text x="838" y="359">&lt;65 years (n=214)</text><text x="869" y="359">20.5 (16.2, NE)</text><text x="888" y="359">15.0 (12.0, 18.7)</text><text x="966" y="359">0.588 (0.406, 0.870)</text>
<text x="838" y="363">≥65 years (n=18)</text><text x="869" y="363">19.6 (7.6, NE)</text><text x="888" y="363">15.7 (7.2, NE)</text><text x="966" y="363">0.465 (0.127, 1.697)</text>
<text x="836" y="367.5" font-weight="bold">Baseline ECOG status</text>
<text x="838" y="371">0 (n=32)</text><text x="869" y="371">NE (1.85, NE)</text><text x="888" y="371">16.7 (4.2, 25.6)</text><text x="966" y="371">0.357 (0.118, 1.108)</text>
<text x="838" y="375">1 (n=200)</text><text x="869" y="375">20.5 (16.2, NE)</text><text x="888" y="375">14.8 (11.9, 18.6)</text><text x="966" y="375">0.616 (0.429, 0.885)</text>
<text x="836" y="379.5" font-weight="bold">HER2 IHC</text>
<text x="838" y="383">HER2 IHC0 (n=95)</text><text x="869" y="383">NE (15.6, NE)</text><text x="888" y="383">14.8 (10.1, 19.7)</text><text x="966" y="383">0.557 (0.315, 1.006)</text>
<text x="838" y="387">HER2-low (n=117)</text><text x="869" y="387">19.3 (15.4, NE)</text><text x="888" y="387">15.1 (11.6, 18.7)</text><text x="966" y="387">0.625 (0.385, 1.016)</text>
<text x="836" y="391" font-weight="bold">Stratification Factor of</text><text x="836" y="394" font-weight="bold">Visceral Metastasis</text>
<text x="838" y="398">Yes (n=208)</text><text x="869" y="398">20.5 (16.2, NE)</text><text x="888" y="398">15.0 (11.7, 18.7)</text><text x="966" y="398">0.577 (0.400, 0.833)</text>
<text x="838" y="402">No (n=24)</text><text x="869" y="402">NE (14.6, NE)</text><text x="888" y="402">17.8 (10.2, NE)</text><text x="966" y="402">0.605 (0.165, 2.217)</text>
<text x="836" y="406.5" font-weight="bold">Stratification Factor of</text><text x="836" y="409.5" font-weight="bold">Prior Chemotherapy Regimens</text><text x="836" y="412.5" font-weight="bold">for Treatment of Metastatic</text><text x="836" y="415.5" font-weight="bold">Disease</text>
<text x="838" y="419">2 (n=132)</text><text x="869" y="419">19.4 (17.0, NE)</text><text x="888" y="419">15.3 (12.4, 20.1)</text><text x="966" y="419">0.689 (0.428, 1.107)</text>
<text x="838" y="423">3-4 (n=100)</text><text x="869" y="423">NE (14.6, NE)</text><text x="888" y="423">14.7 (9.8, 18.1)</text><text x="966" y="423">0.496 (0.320, 0.882)</text>
<text x="836" y="427.5" font-weight="bold">Stratification Factor of</text><text x="836" y="430.5" font-weight="bold">Prior Treatment with CDK4/6</text><text x="836" y="433.5" font-weight="bold">Inhibitors in the Metastatic</text><text x="836" y="436.5" font-weight="bold">Setting</text>
<text x="838" y="440.5">Yes (n=108)</text><text x="869" y="440.5">NE (15.6, NE)</text><text x="888" y="440.5">13.7 (10.0, 18.1)</text><text x="966" y="440.5">0.482 (0.286, 0.819)</text>
<text x="838" y="444">No (n=124)</text><text x="869" y="444">20.5 (16.2, NE)</text><text x="888" y="444">16.7 (12.4, 20.1)</text><text x="966" y="444">0.685 (0.432, 1.089)</text>
</g>
<g stroke="#3344bb" stroke-width="0.45">
<line x1="938" y1="350" x2="946" y2="350"/><line x1="937" y1="358" x2="946" y2="358"/><line x1="927" y1="362" x2="951" y2="362"/><line x1="925" y1="370" x2="947" y2="370"/><line x1="939" y1="374" x2="946" y2="374"/><line x1="935" y1="382" x2="947" y2="382"/><line x1="937" y1="386" x2="948" y2="386"/><line x1="939" y1="397" x2="946" y2="397"/><line x1="929" y1="401" x2="953" y2="401"/><line x1="940" y1="418" x2="948" y2="418"/><line x1="932" y1="422" x2="946" y2="422"/><line x1="933" y1="439.5" x2="946" y2="439.5"/><line x1="940" y1="443" x2="948" y2="443"/>
</g>
<g fill="#2233cc"><rect x="940.2" y="349.2" width="1.6" height="1.6"/><rect x="940.2" y="357.2" width="1.6" height="1.6"/><rect x="939.2" y="361.2" width="1.6" height="1.6"/><rect x="936.2" y="369.2" width="1.6" height="1.6"/><rect x="941.2" y="373.2" width="1.6" height="1.6"/><rect x="940.2" y="381.2" width="1.6" height="1.6"/><rect x="941.2" y="385.2" width="1.6" height="1.6"/><rect x="941.2" y="396.2" width="1.6" height="1.6"/><rect x="942.2" y="400.2" width="1.6" height="1.6"/><rect x="943.2" y="417.2" width="1.6" height="1.6"/><rect x="939.2" y="421.2" width="1.6" height="1.6"/><rect x="938.2" y="438.7" width="1.6" height="1.6"/><rect x="943.2" y="442.2" width="1.6" height="1.6"/></g>
</g>
</svg>
</body></html>
